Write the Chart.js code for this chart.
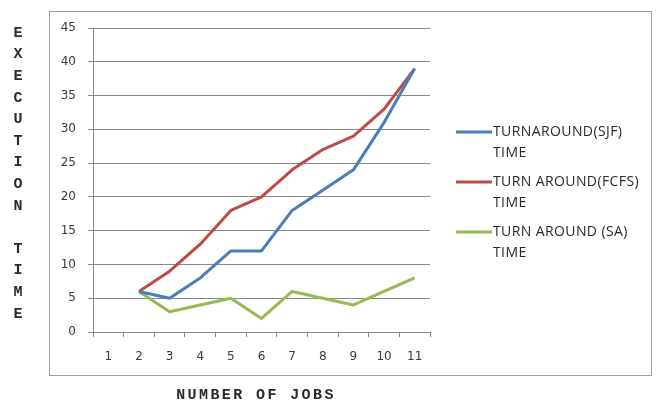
<!DOCTYPE html>
<html>
<head>
<meta charset="utf-8">
<script src="https://cdn.jsdelivr.net/npm/chart.js@4/dist/chart.umd.min.js"></script>
<style>
  html, body { margin: 0; padding: 0; background: #ffffff; }
  #wrap { width: 656px; height: 401px; }
</style>
</head>
<body>
<div id="wrap"><canvas id="c" width="656" height="401"></canvas></div>
<script>
// Number of jobs on the x axis
const jobs = ['1', '2', '3', '4', '5', '6', '7', '8', '9', '10', '11'];

// Turnaround times per scheduling method (no value for a single job)
const sjfTimes  = [null, 6, 5, 8, 12, 12, 18, 21, 24, 31, 39];
const fcfsTimes = [null, 6, 9, 13, 18, 20, 24, 27, 29, 33, 39];
const saTimes   = [null, 6, 3, 4, 5, 2, 6, 5, 4, 6, 8];

// Y axis range and step
const yMin = 0;
const yMax = 45;
const yStep = 5;

// Series names, each drawn on two lines in the legend
const seriesNames = [
  ['TURNAROUND(SJF)', 'TIME'],
  ['TURN AROUND(FCFS)', 'TIME'],
  ['TURN AROUND (SA)', 'TIME']
];
const seriesColors = ['#4a7ebb', '#be4b48', '#98b954'];

const yTitle = 'EXECUTION TIME';
const xTitle = 'NUMBER OF JOBS';

const gridColor = '#8a8a8a';
const textColor = '#3a3a3a';
const tickFont = { family: 'DejaVu Sans', size: 12 };

// Outer frame around the whole chart
const framePlugin = {
  id: 'frame',
  beforeDraw(chart) {
    const ctx = chart.ctx;
    ctx.save();
    ctx.fillStyle = '#ffffff';
    ctx.fillRect(0, 0, chart.width, chart.height);
    ctx.strokeStyle = '#a0a0a0';
    ctx.lineWidth = 1;
    ctx.strokeRect(49.5, 11.5, 602, 364);
    ctx.restore();
  }
};

// Axis titles: stacked letters on the left, spaced letters below
const titlesPlugin = {
  id: 'axisTitles',
  afterDraw(chart) {
    const ctx = chart.ctx;
    ctx.save();
    ctx.fillStyle = '#2a2a2a';
    ctx.font = 'bold 15px "Liberation Mono"';
    ctx.textAlign = 'center';
    ctx.textBaseline = 'middle';
    const chars = yTitle.split('');
    chars.forEach((ch, i) => {
      if (ch !== ' ') ctx.fillText(ch, 18, 33 + i * 21.6);
    });
    ctx.letterSpacing = '2.4px';
    ctx.fillText(xTitle, 256, 395);
    ctx.restore();
  }
};

// Legend on the right with two-line labels
const legendPlugin = {
  id: 'sideLegend',
  afterDraw(chart) {
    const ctx = chart.ctx;
    ctx.save();
    chart.data.datasets.forEach((ds, i) => {
      const y = 132 + i * 50;
      ctx.strokeStyle = ds.borderColor;
      ctx.lineWidth = 3;
      ctx.beginPath();
      ctx.moveTo(456, y);
      ctx.lineTo(492, y);
      ctx.stroke();
      ctx.fillStyle = '#2a2a2a';
      ctx.font = '14px "Open Sans"';
      ctx.letterSpacing = '0.4px';
      ctx.textAlign = 'left';
      ctx.textBaseline = 'middle';
      seriesNames[i].forEach((line, k) => ctx.fillText(line, 493, y + k * 21));
    });
    ctx.restore();
  }
};

const makeSeries = (label, data, color) => ({
  label: label,
  data: data,
  borderColor: color,
  backgroundColor: color,
  borderWidth: 3,
  pointRadius: 0,
  pointHoverRadius: 0,
  tension: 0,
  fill: false,
  spanGaps: false,
  borderJoinStyle: 'round'
});

new Chart(document.getElementById('c'), {
  type: 'line',
  data: {
    labels: jobs,
    datasets: [
      makeSeries(seriesNames[0].join(' '), sjfTimes, seriesColors[0]),
      makeSeries(seriesNames[1].join(' '), fcfsTimes, seriesColors[1]),
      makeSeries(seriesNames[2].join(' '), saTimes, seriesColors[2])
    ]
  },
  options: {
    responsive: false,
    animation: false,
    devicePixelRatio: 1,
    layout: { padding: { left: 0, top: 28, right: 226, bottom: 0 } },
    plugins: {
      legend: { display: false },
      tooltip: { enabled: false },
      title: { display: false }
    },
    scales: {
      x: {
        type: 'category',
        offset: true,
        grid: {
          offset: true,
          drawOnChartArea: false,
          drawTicks: true,
          tickLength: 5,
          color: gridColor
        },
        border: { color: gridColor, width: 1 },
        ticks: { font: tickFont, color: textColor, padding: 13, maxRotation: 0 },
        afterFit(scale) { scale.height = 69; }
      },
      y: {
        min: yMin,
        max: yMax,
        grid: { color: gridColor, tickLength: 5, drawTicks: true },
        border: { color: gridColor, width: 1 },
        ticks: { stepSize: yStep, font: tickFont, color: textColor, padding: 12 },
        afterFit(scale) { scale.width = 93; }
      }
    }
  },
  plugins: [framePlugin, titlesPlugin, legendPlugin]
});
</script>
</body>
</html>
